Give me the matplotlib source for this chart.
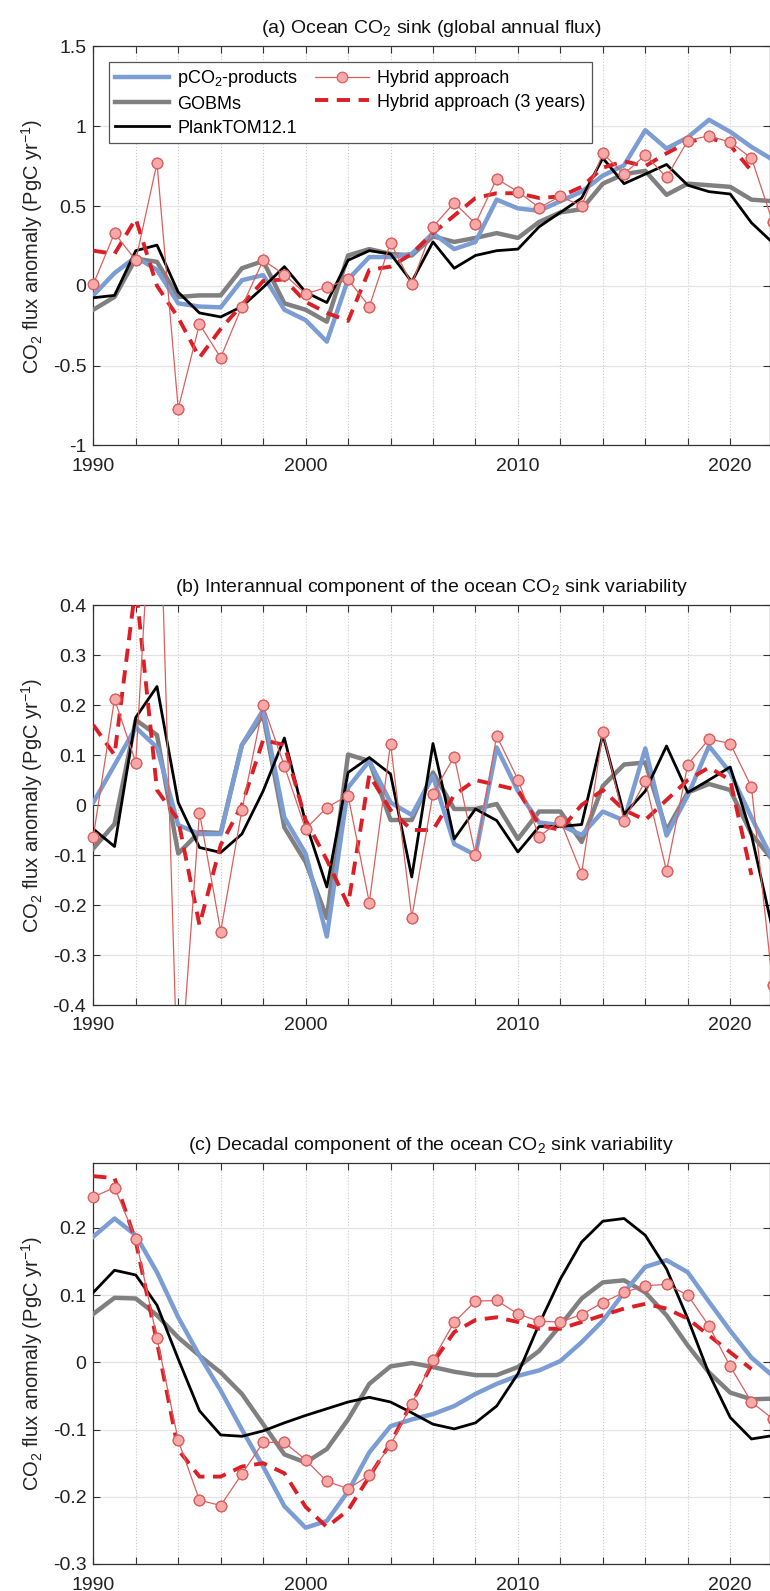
import numpy as np
import matplotlib
matplotlib.use('Agg')
import matplotlib.pyplot as plt
from matplotlib.ticker import FixedLocator, FuncFormatter

plt.rcParams['font.family'] = ['Liberation Sans', 'DejaVu Sans']
plt.rcParams['mathtext.default'] = 'regular'
plt.rcParams['axes.unicode_minus'] = False

nan = np.nan
years = np.arange(1990, 2023)

# (a) global annual flux
a_pco2 = [-0.06, 0.08, 0.18, 0.10, -0.11, -0.13, -0.135, 0.035, 0.067, -0.15, -0.215, -0.35, 0.04,
          0.18, 0.18, 0.20, 0.33, 0.23, 0.275, 0.54, 0.485, 0.47, 0.53, 0.59, 0.69, 0.755, 0.975,
          0.86, 0.93, 1.04, 0.965, 0.87, 0.79]
a_gobm = [-0.15, -0.07, 0.17, 0.15, -0.07, -0.06, -0.06, 0.11, 0.155, -0.11, -0.15, -0.225, 0.19,
          0.23, 0.20, 0.19, 0.31, 0.275, 0.30, 0.33, 0.30, 0.40, 0.46, 0.48, 0.64, 0.70, 0.72,
          0.57, 0.64, 0.63, 0.62, 0.54, 0.53]
a_plank = [-0.075, -0.06, 0.22, 0.255, -0.04, -0.17, -0.195, -0.13, -0.01, 0.12, -0.04, -0.105, 0.16,
           0.22, 0.20, 0.025, 0.275, 0.11, 0.19, 0.22, 0.23, 0.37, 0.46, 0.55, 0.80, 0.64, 0.70,
           0.76, 0.63, 0.59, 0.575, 0.395, 0.27]
a_hyb = [0.01, 0.33, 0.16, 0.77, -0.77, -0.24, -0.45, -0.13, 0.16, 0.07, -0.05, -0.01, 0.04,
         -0.13, 0.27, 0.01, 0.37, 0.52, 0.39, 0.67, 0.59, 0.49, 0.56, 0.50, 0.83, 0.70, 0.82,
         0.68, 0.91, 0.94, 0.90, 0.80, 0.40]
a_hyb3 = [0.22, 0.20, 0.42, 0.0, -0.20, -0.45, -0.27, -0.12, 0.03, 0.04, -0.10, -0.17, -0.22,
          0.10, 0.12, 0.20, 0.33, 0.44, 0.55, 0.58, 0.58, 0.55, 0.56, 0.62, 0.74, 0.78, 0.75,
          0.83, 0.90, 0.93, 0.88, 0.72, nan]

# (b) interannual component
b_pco2 = [0.005, 0.08, 0.155, 0.115, -0.04, -0.058, -0.058, 0.12, 0.19, -0.025, -0.097, -0.263, 0.035,
          0.088, 0.005, -0.02, 0.058, -0.078, -0.10, 0.115, 0.028, -0.035, -0.04, -0.06, -0.013,
          -0.031, 0.113, -0.061, 0.019, 0.118, 0.065, -0.025, -0.11]
b_gobm = [-0.087, -0.038, 0.17, 0.14, -0.097, -0.054, -0.056, 0.12, 0.18, -0.045, -0.114, -0.226, 0.101,
          0.088, -0.03, -0.03, 0.065, -0.008, -0.008, 0.002, -0.068, -0.013, -0.013, -0.074, 0.038,
          0.081, 0.085, -0.051, 0.025, 0.042, 0.03, -0.058, -0.11]
b_plank = [-0.048, -0.083, 0.175, 0.237, 0.005, -0.085, -0.095, -0.058, 0.028, 0.134, -0.035, -0.164, 0.065,
           0.095, 0.062, -0.144, 0.123, -0.068, -0.008, -0.031, -0.094, -0.043, -0.043, -0.039, 0.141,
           -0.019, 0.028, 0.118, 0.025, 0.05, 0.076, -0.06, -0.25]
b_hyb = [-0.063, 0.212, 0.085, 0.82, -0.60, -0.015, -0.253, -0.01, 0.2, 0.078, -0.048, -0.005, 0.019,
         -0.195, 0.123, -0.225, 0.023, 0.097, -0.10, 0.138, 0.051, -0.063, -0.031, -0.137, 0.146,
         -0.031, 0.048, -0.132, 0.081, 0.132, 0.123, 0.036, -0.36]
b_hyb3 = [0.16, 0.10, 0.44, 0.03, -0.03, -0.24, -0.08, 0.0, 0.13, 0.12, -0.03, -0.11, -0.20,
          0.06, -0.01, -0.05, -0.05, 0.02, 0.05, 0.04, 0.03, -0.04, -0.05, 0.0, 0.03, -0.01,
          -0.03, 0.01, 0.05, 0.075, 0.05, -0.14, nan]

# (c) decadal component
c_pco2 = [0.187, 0.214, 0.189, 0.134, 0.067, 0.01, -0.042, -0.1, -0.155, -0.214, -0.246, -0.236, -0.192,
          -0.134, -0.095, -0.085, -0.077, -0.065, -0.047, -0.032, -0.02, -0.012, 0.002, 0.03, 0.062,
          0.104, 0.142, 0.152, 0.134, 0.09, 0.047, 0.007, -0.02]
c_gobm = [0.072, 0.096, 0.095, 0.07, 0.037, 0.01, -0.015, -0.047, -0.092, -0.137, -0.149, -0.129, -0.085,
          -0.032, -0.006, -0.001, -0.007, -0.014, -0.019, -0.019, -0.007, 0.017, 0.055, 0.095, 0.119,
          0.122, 0.104, 0.07, 0.025, -0.015, -0.045, -0.055, -0.054]
c_plank = [0.104, 0.137, 0.13, 0.085, 0.005, -0.072, -0.108, -0.11, -0.102, -0.09, -0.079, -0.069, -0.059,
           -0.052, -0.059, -0.075, -0.092, -0.099, -0.09, -0.065, -0.017, 0.057, 0.124, 0.179, 0.21,
           0.214, 0.189, 0.139, 0.065, -0.017, -0.082, -0.114, -0.109]
c_hyb = [0.246, 0.26, 0.184, 0.036, -0.116, -0.205, -0.213, -0.166, -0.119, -0.119, -0.145, -0.177, -0.188,
         -0.168, -0.123, -0.062, 0.004, 0.06, 0.091, 0.092, 0.072, 0.061, 0.06, 0.071, 0.089,
         0.104, 0.114, 0.116, 0.1, 0.054, -0.006, -0.059, -0.084]
c_hyb3 = [0.277, 0.274, 0.18, 0.03, -0.13, -0.17, -0.17, -0.155, -0.15, -0.165, -0.215, -0.245, -0.22,
          -0.17, -0.12, -0.06, 0.0, 0.045, 0.063, 0.067, 0.06, 0.05, 0.05, 0.06, 0.07, 0.08,
          0.087, 0.08, 0.065, 0.04, 0.015, -0.01, nan]

titles = ['(a) Ocean CO$_2$ sink (global annual flux)',
          '(b) Interannual component of the ocean CO$_2$ sink variability',
          '(c) Decadal component of the ocean CO$_2$ sink variability']
ylims = [(-1, 1.5), (-0.4, 0.4), (-0.3, 0.297)]
yticks = [[-1, -0.5, 0, 0.5, 1, 1.5],
          [-0.4, -0.3, -0.2, -0.1, 0, 0.1, 0.2, 0.3, 0.4],
          [-0.3, -0.2, -0.1, 0, 0.1, 0.2]]
panels = [(a_pco2, a_gobm, a_plank, a_hyb, a_hyb3),
          (b_pco2, b_gobm, b_plank, b_hyb, b_hyb3),
          (c_pco2, c_gobm, c_plank, c_hyb, c_hyb3)]
# axes boxes in pixels from the top: (top, bottom)
boxes = [(46.4, 445.4), (605.0, 1005.0), (1162.7, 1564.0)]

W, H = 770, 1591
fig = plt.figure(figsize=(W / 100, H / 100), dpi=100)

blue = '#7c9dd3'
grey = '#808080'
red = '#dc1f26'
pink_edge = '#d9605e'
pink_face = '#f6a9a9'
axcol = '#333333'

for i in range(3):
    top, bot = boxes[i]
    ax = fig.add_axes([93.3 / W, 1 - bot / H, 676.2 / W, (bot - top) / H])
    pco2, gobm, plank, hyb, hyb3 = [np.array(v, dtype=float) for v in panels[i]]

    l_g, = ax.plot(years, gobm, color=grey, lw=3.2, label='GOBMs', zorder=3)
    l_b, = ax.plot(years, pco2, color=blue, lw=3.2, label='pCO$_2$-products', zorder=3)
    l_k, = ax.plot(years, plank, color='black', lw=2.0, label='PlankTOM12.1', zorder=4)
    l_d, = ax.plot(years, hyb3, color=red, lw=2.8, dashes=(3.4, 2.2),
                   label='Hybrid approach (3 years)', zorder=5)
    l_h, = ax.plot(years, hyb, color=pink_edge, lw=0.9, marker='o', ms=7.6,
                   mfc=pink_face, mec=pink_edge, mew=0.9, label='Hybrid approach', zorder=6)
    lo, hi = ylims[i]
    inside = np.where((hyb >= lo) & (hyb <= hi), hyb, nan)
    ax.plot(years, inside, ls='none', marker='o', ms=7.6, mfc=pink_face, mec=pink_edge,
            mew=0.9, zorder=7, clip_on=False)

    ax.set_xlim(1990, 2021.85)
    ax.set_ylim(lo, hi)
    ax.xaxis.set_major_locator(FixedLocator(list(range(1990, 2022, 2))))
    ax.xaxis.set_major_formatter(FuncFormatter(lambda v, p: '%d' % v if int(round(v)) % 10 == 0 else ''))
    ax.set_yticks(yticks[i])
    ax.yaxis.set_major_formatter(FuncFormatter(lambda v, p: '%g' % round(v, 3)))

    ax.grid(axis='x', color='#c9c9c9', lw=0.8, ls=':')
    ax.grid(axis='y', color='#e3e3e3', lw=0.9, ls='-')
    ax.set_axisbelow(True)
    ax.tick_params(direction='in', top=True, right=True, length=5, width=0.8,
                   color=axcol, labelcolor='#222222', labelsize=14)
    ax.tick_params(axis='x', pad=9)
    ax.tick_params(axis='y', pad=5)
    for s in ax.spines.values():
        s.set_color(axcol)
        s.set_linewidth(0.9)

    ax.set_title(titles[i], fontsize=14, pad=9.5, color='#111111')
    ax.set_ylabel('CO$_2$ flux anomaly (PgC yr$^{-1}$)', fontsize=14.5, color='#222222')
    ax.yaxis.set_label_coords(-0.072, 0.5)

    if i == 0:
        leg = ax.legend([l_b, l_g, l_k, l_h, l_d],
                        ['pCO$_2$-products', 'GOBMs', 'PlankTOM12.1',
                         'Hybrid approach', 'Hybrid approach (3 years)'],
                        ncol=2, loc='upper left', bbox_to_anchor=(0.023, 0.962),
                        fontsize=13, frameon=True, fancybox=False, framealpha=1,
                        edgecolor='#555555', handlelength=3.0, handletextpad=0.45,
                        columnspacing=0.9, labelspacing=0.38, borderpad=0.35,
                        borderaxespad=0)
        leg.get_frame().set_linewidth(0.9)

fig.savefig('out.png', dpi=100)
